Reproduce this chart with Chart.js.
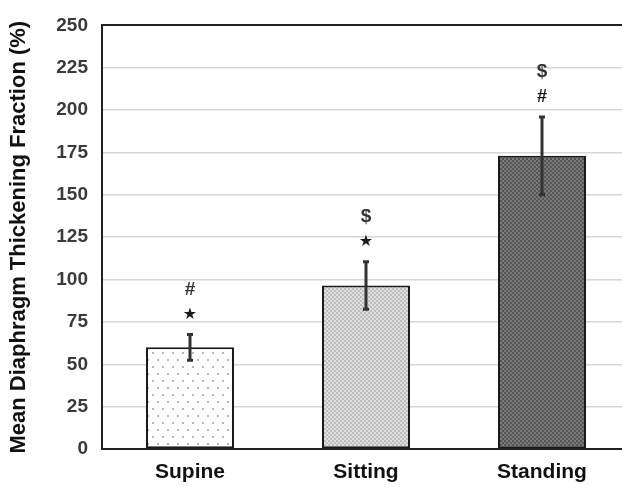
<!DOCTYPE html>
<html>
<head>
<meta charset="utf-8">
<style>
  html, body { margin: 0; padding: 0; background: #fff; overflow: hidden; }
  #wrap { width: 622px; height: 487px; overflow: hidden; }
</style>
<script src="https://cdn.jsdelivr.net/npm/chart.js@4/dist/chart.umd.min.js"></script>
</head>
<body>
<div id="wrap"><canvas id="chart" width="640" height="487"></canvas></div>
<script>
const positions = ['Supine', 'Sitting', 'Standing'];
const meanThickening = [60, 96.5, 173];
const sdThickening = [7.6, 14, 23];
const markLower = ['\u2605', '\u2605', '#'];
const markUpper = ['#', '$', '$'];
const yTicks = [0, 25, 50, 75, 100, 125, 150, 175, 200, 225, 250];

// small tiles for the hatched fills
function makePattern(size, draw) {
    const c = document.createElement('canvas');
    c.width = size[0];
    c.height = size[1];
    const g = c.getContext('2d');
    draw(g);
    return g.createPattern(c, 'repeat');
}

const ctx = document.getElementById('chart').getContext('2d');

const dotted = makePattern([10, 14], g => {
    g.fillStyle = '#ffffff';
    g.fillRect(0, 0, 10, 14);
    g.fillStyle = '#b8b8b8';
    g.fillRect(2, 2, 2, 2);
    g.fillRect(7, 9, 2, 2);
});
const fineGrey = makePattern([4, 4], g => {
    g.fillStyle = '#e0e0e0';
    g.fillRect(0, 0, 4, 4);
    g.fillStyle = '#bcbcbc';
    g.fillRect(0, 0, 2, 2);
    g.fillRect(2, 2, 2, 2);
});
const darkGrey = makePattern([4, 4], g => {
    g.fillStyle = '#7a7a7a';
    g.fillRect(0, 0, 4, 4);
    g.fillStyle = '#555555';
    g.fillRect(0, 0, 2, 2);
    g.fillRect(2, 2, 2, 2);
});

const errorBars = {
    id: 'errorBars',
    afterDatasetsDraw(chart) {
        const meta = chart.getDatasetMeta(0);
        const y = chart.scales.y;
        const c = chart.ctx;
        c.save();
        meta.data.forEach((bar, i) => {
            const top = y.getPixelForValue(meanThickening[i] + sdThickening[i]);
            const bot = y.getPixelForValue(meanThickening[i] - sdThickening[i]);
            c.strokeStyle = '#333333';
            c.lineWidth = 3;
            c.beginPath();
            c.moveTo(bar.x, top);
            c.lineTo(bar.x, bot);
            c.moveTo(bar.x - 3, top);
            c.lineTo(bar.x + 3, top);
            c.moveTo(bar.x - 3, bot);
            c.lineTo(bar.x + 3, bot);
            c.stroke();

            c.textAlign = 'center';
            c.textBaseline = 'middle';
            c.fillStyle = '#1a1a1a';
            c.font = markLower[i] === '\u2605' ? '16px "DejaVu Sans"' : 'bold 18px "Liberation Sans"';
            c.fillText(markLower[i], bar.x, top - 20);
            c.fillStyle = '#333333';
            c.font = 'bold 19px "Liberation Sans"';
            c.fillText(markUpper[i], bar.x, top - 45);
        });
        c.restore();
    }
};

new Chart(ctx, {
    type: 'bar',
    data: {
        labels: positions,
        datasets: [{
            data: meanThickening,
            backgroundColor: [dotted, fineGrey, darkGrey],
            borderColor: '#1a1a1a',
            borderWidth: 2,
            borderSkipped: false,
            barPercentage: 0.5,
            categoryPercentage: 1.0
        }]
    },
    options: {
        responsive: false,
        animation: false,
        devicePixelRatio: 1,
        layout: { padding: { top: 21, right: 10, left: 0, bottom: 0 } },
        plugins: { legend: { display: false }, tooltip: { enabled: false } },
        scales: {
            x: {
                grid: { display: false, drawTicks: false },
                border: { color: '#222222', width: 2 },
                ticks: {
                    color: '#111111',
                    padding: 11,
                    font: { family: 'Liberation Sans', size: 21, weight: 'bold' }
                },
                afterFit(scale) { scale.height = 38; }
            },
            y: {
                min: 0,
                max: 250,
                afterBuildTicks(scale) { scale.ticks = yTicks.map(v => ({ value: v })); },
                grid: {
                    drawTicks: false,
                    color: c => c.tick && c.tick.value === 250 ? '#222222' : '#d6d6d6',
                    lineWidth: c => c.tick && c.tick.value === 250 ? 2 : 1.5
                },
                border: { color: '#222222', width: 2 },
                ticks: {
                    color: '#3a3a3a',
                    padding: 14,
                    font: { family: 'Liberation Sans', size: 19, weight: 'bold' }
                },
                title: {
                    display: true,
                    text: 'Mean Diaphragm Thickening Fraction (%)',
                    color: '#111111',
                    padding: { top: 6, bottom: 0 },
                    font: { family: 'Liberation Sans', size: 22, weight: 'bold' }
                },
                afterFit(scale) { scale.width = 102; }
            }
        }
    },
    plugins: [errorBars]
});
</script>
</body>
</html>
